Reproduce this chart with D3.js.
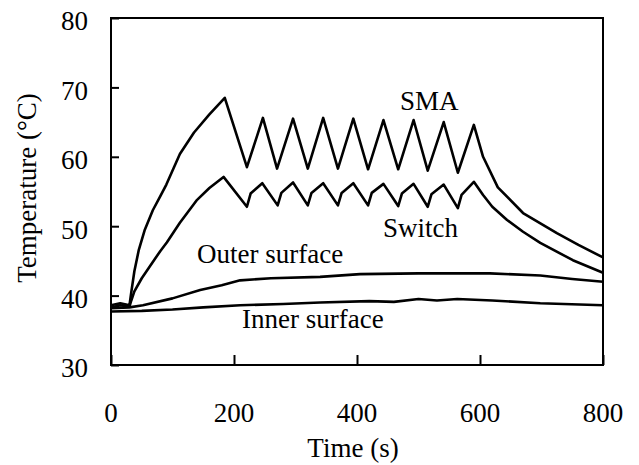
<!DOCTYPE html>
<html>
<head>
<meta charset="UTF-8">
<title>Temperature vs Time</title>
<script src="https://cdn.jsdelivr.net/npm/d3@7"></script>
<style>
  body { margin: 0; background: #fff; }
</style>
</head>
<body>
<script>
// data (time in s, temperature in degC)
var smaT = [0, 15, 30, 33, 38, 45, 55, 68, 80, 90, 112, 135, 160, 185,
  221, 247, 270, 296, 320, 345, 369, 394, 418, 443, 467, 492, 515, 541, 564, 590,
  605, 629, 670, 725, 760, 800];
var smaV = [38.6, 38.9, 38.6, 40.5, 43.5, 46.5, 49.5, 52.3, 54.3, 56, 60.4, 63.5, 66.1, 68.5,
  58.5, 65.6, 58.3, 65.5, 58.3, 65.6, 58.3, 65.5, 58.2, 65.3, 58.2, 65.3, 58, 65, 57.7, 64.6,
  60, 55.6, 51.9, 49, 47.3, 45.5];

var switchT = [0, 15, 30, 33, 38, 50, 63, 80, 91, 112, 140, 160, 183,
  221, 227, 246, 271, 277, 296, 320, 326, 345, 369, 375, 394, 418, 424, 443,
  467, 473, 492, 515, 521, 541, 564, 570, 590,
  605, 620, 644, 670, 698, 751, 800];
var switchV = [38.3, 38.6, 38.4, 39.3, 40.6, 42.5, 44.2, 46.4, 47.7, 50.5, 53.8, 55.5, 57.1,
  52.8, 54.7, 56.2, 53, 54.8, 56.3, 53, 54.8, 56.2, 53, 54.8, 56.2, 53, 54.8, 56.1,
  52.9, 54.7, 56.1, 52.8, 54.6, 56, 52.6, 54.5, 56.4,
  54.5, 52.8, 50.9, 49.2, 47.6, 45.1, 43.3];

var outerT = [0, 30, 52, 100, 145, 180, 210, 260, 340, 405, 500, 616, 698, 750, 800];
var outerV = [38.2, 38.3, 38.6, 39.6, 40.8, 41.5, 42.2, 42.5, 42.7, 43.1, 43.2, 43.2, 42.9, 42.4, 42];

var innerT = [0, 50, 100, 150, 210, 280, 340, 420, 460, 500, 530, 563, 620, 698, 800];
var innerV = [37.7, 37.8, 38.0, 38.3, 38.6, 38.8, 39.0, 39.2, 39.1, 39.5, 39.3, 39.5, 39.3, 38.9, 38.6];

var xTicks = [0, 200, 400, 600, 800];
var yTicks = [30, 40, 50, 60, 70, 80];

var W = 639, H = 465;
var plotL = 111, plotR = 603, plotT = 18, plotB = 365;
var serif = "Times New Roman, Times, Tinos, Liberation Serif, Noto Serif, FreeSerif, DejaVu Serif, serif";

var svg = d3.select("body").append("svg")
    .attr("width", W).attr("height", H);

var x = d3.scaleLinear().domain([0, 800]).range([plotL, plotR]);
var y = d3.scaleLinear().domain([30, 80]).range([plotB, plotT]);

function zip(ts, vs) {
  return ts.map(function (t, i) { return [t, vs[i]]; });
}

var series = [
  { name: "SMA", pts: zip(smaT, smaV) },
  { name: "Switch", pts: zip(switchT, switchV) },
  { name: "Outer surface", pts: zip(outerT, outerV) },
  { name: "Inner surface", pts: zip(innerT, innerV) }
];

var line = d3.line()
    .curve(d3.curveLinear)
    .x(function (d) { return x(d[0]); })
    .y(function (d) { return y(d[1]); });

svg.selectAll("path.curve").data(series).enter().append("path")
    .attr("class", "curve")
    .attr("d", function (d) { return line(d.pts); })
    .attr("fill", "none")
    .attr("stroke", "#000")
    .attr("stroke-width", 2.6)
    .attr("stroke-linejoin", "round");

// axes with inward ticks
svg.append("g")
    .attr("transform", "translate(0," + plotB + ")")
    .call(d3.axisBottom(x).tickValues(xTicks).tickSizeInner(-10).tickSizeOuter(0).tickPadding(0).tickFormat(""));
svg.append("g")
    .attr("transform", "translate(" + plotL + ",0)")
    .call(d3.axisLeft(y).tickValues(yTicks).tickSizeInner(-8).tickSizeOuter(0).tickPadding(0).tickFormat(""));
svg.selectAll(".domain").remove();
svg.selectAll(".tick line").attr("stroke", "#000").attr("stroke-width", 2);

svg.append("rect")
    .attr("x", plotL).attr("y", plotT)
    .attr("width", plotR - plotL).attr("height", plotB - plotT)
    .attr("fill", "none").attr("stroke", "#000").attr("stroke-width", 2);

function txt(sel) {
  return sel.attr("font-family", serif).attr("font-size", 27).attr("fill", "#000");
}

// tick labels
svg.selectAll("text.xt").data(xTicks).enter().append("text")
    .attr("class", "xt")
    .attr("x", function (d) { return x(d); })
    .attr("y", 422)
    .attr("text-anchor", "middle")
    .call(txt)
    .text(function (d) { return d; });

svg.selectAll("text.yt").data(yTicks).enter().append("text")
    .attr("class", "yt")
    .attr("x", 88)
    .attr("y", function (d) { return y(d) + 3; })
    .attr("dy", "0.35em")
    .attr("text-anchor", "end")
    .call(txt)
    .text(function (d) { return d; });

// axis titles
svg.append("text")
    .attr("x", 353).attr("y", 457)
    .attr("text-anchor", "middle")
    .call(txt)
    .text("Time (s)");

svg.append("text")
    .attr("transform", "translate(36,188) rotate(-90)")
    .attr("text-anchor", "middle")
    .call(txt)
    .text("Temperature (\u00B0C)");

// curve labels
var labels = [
  { text: "SMA", x: 400, y: 110 },
  { text: "Switch", x: 383, y: 237 },
  { text: "Outer surface", x: 197, y: 263 },
  { text: "Inner surface", x: 242, y: 328 }
];
svg.selectAll("text.lab").data(labels).enter().append("text")
    .attr("class", "lab")
    .attr("x", function (d) { return d.x; })
    .attr("y", function (d) { return d.y; })
    .call(txt)
    .text(function (d) { return d.text; });
</script>
</body>
</html>
